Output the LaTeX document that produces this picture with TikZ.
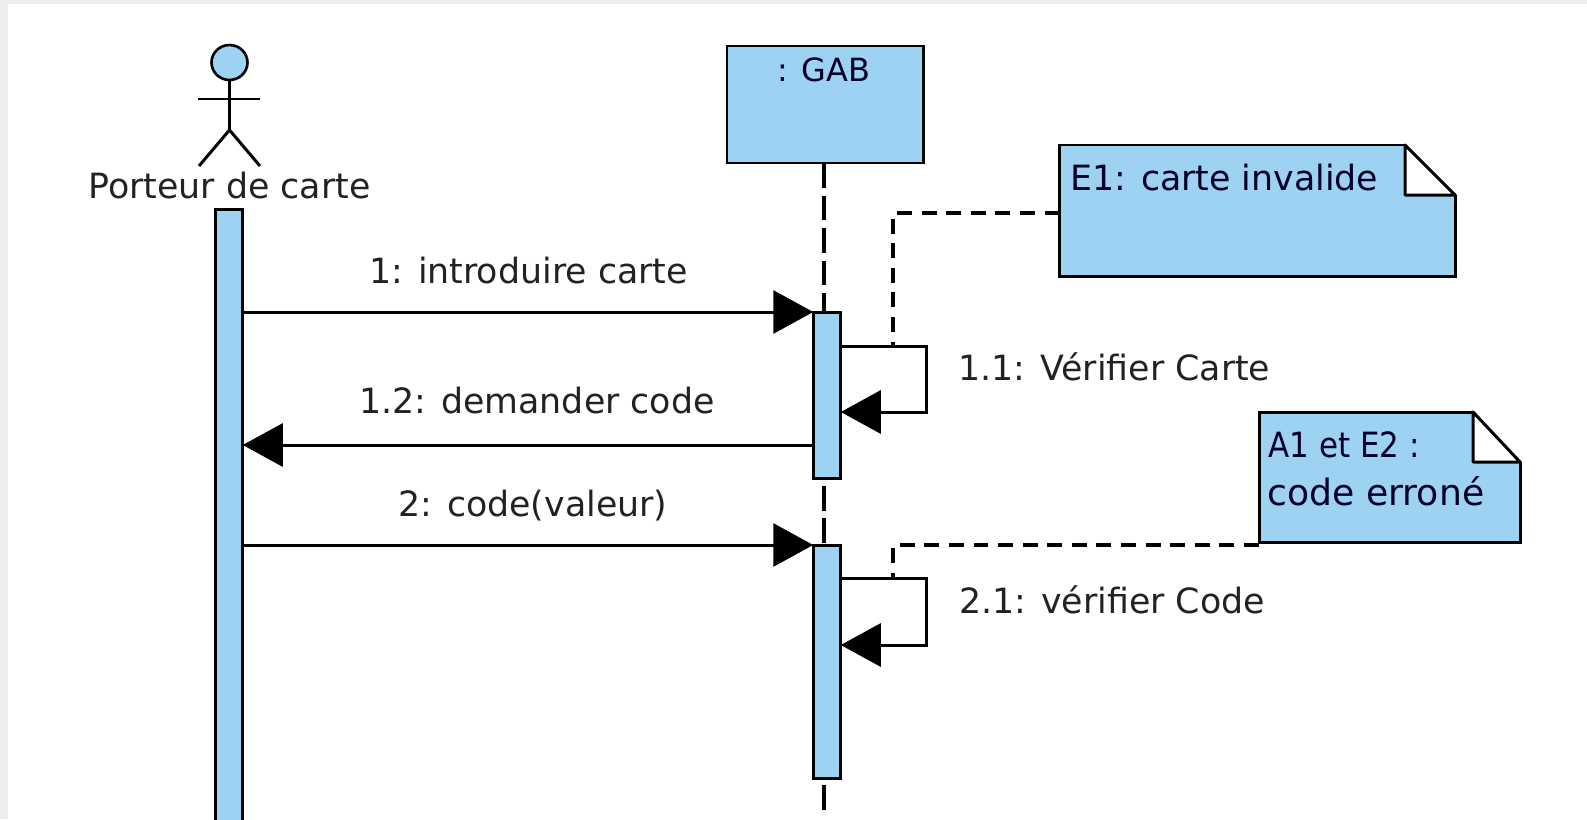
\documentclass[tikz,border=0pt]{standalone}
\usepackage{fontspec}
\setmainfont{DejaVu Sans}
\usetikzlibrary{arrows.meta,shapes.geometric}
\newcommand{\px}{0.02cm}
\definecolor{umlblue}{HTML}{9ED2F3}
\definecolor{umlframe}{HTML}{EEEEEE}
\definecolor{umltext}{HTML}{222222}
\begin{document}
\begin{tikzpicture}[x=\px, y=-\px, line width=1.7pt,
    barbox/.style={draw, fill=umlblue, minimum width=27.5*\px, inner sep=0pt, outer sep=0pt},
    notebox/.style={draw, fill=umlblue, inner sep=0pt, outer sep=0pt},
    msglabel/.style={anchor=base west, inner sep=0pt, text=umltext, font=\fontsize{19.8}{22}\selectfont},
    notelabel/.style={anchor=base west, inner sep=0pt, text=black!85!blue, font=\fontsize{19.8}{22}\selectfont},
    msgline/.style={-{Triangle[length=40*\px, width=43*\px]}},
    lifeline/.style={dash pattern=on 14pt off 4.5pt, line width=1.8pt},
    noteline/.style={dash pattern=on 8.5pt off 5.5pt, line width=1.9pt}]
  \useasboundingbox (0,0) rectangle (1587,819);
  \clip (0,0) rectangle (1587,819);
  % page
  \fill [umlframe] (0,0) rectangle (1587,819);
  \fill [white] (8,4) rectangle (1587,819);
  % actor
  \node [draw, fill=umlblue, ellipse, line width=1.5pt, minimum width=36*\px, minimum height=35*\px, inner sep=0pt, outer sep=0pt] (head) at (229.5,62.5) {};
  \coordinate (hip) at (229.5,130);
  \draw (head.south) -- (hip);
  \draw (198,99) -- (260,99);
  \draw (199,166) -- (hip) -- (260,166);
  \node [anchor=base, inner sep=0pt, text=umltext, font=\fontsize{19.8}{22}\selectfont] (porteur) at (229.5,198) {Porteur de carte};
  % object and lifeline
  \node [notebox, minimum width=196*\px, minimum height=117*\px] (gab) at (825,104.5) {};
  \node [anchor=base, inner sep=0pt, text=black!85!blue, font=\fontsize{18.2}{20}\selectfont] (gablabel) at (824,81) {: GAB};
  \node [barbox, minimum height=650*\px, anchor=north] (porteurbar) at (229,209) {};
  \node [barbox, minimum height=166*\px, anchor=north] (gabbara) at (827,312) {};
  \node [barbox, minimum height=233*\px, anchor=north] (gabbarb) at (827,545) {};
  \coordinate (lifeend) at (824,811);
  \draw [lifeline] (gab.south -| 824,0) -- (gabbara.north -| 824,0);
  \draw [lifeline, dash phase=14pt] (gabbara.south -| 824,0) -- (gabbarb.north -| 824,0);
  \draw [lifeline, dash phase=14.5pt] (gabbarb.south -| 824,0) -- (lifeend);
  % messages
  \coordinate (aout) at (porteurbar.east |- 0,312);
  \coordinate (bout) at (gabbara.west |- 0,445);
  \coordinate (bin) at (porteurbar.east |- 0,445);
  \coordinate (cout) at (porteurbar.east |- 0,545);
  \draw [msgline] (aout) -- (gabbara.north west);
  \draw [msgline] (bout) -- (bin);
  \draw [msgline] (cout) -- (gabbarb.north west);
  \node [msglabel] (msga) at (368,283) {1: introduire carte};
  \node [msglabel] (msgb) at (358,413) {1.2: demander code};
  \node [msglabel] (msgc) at (397,516) {2: code(valeur)};
  % self messages
  \coordinate (aaout) at (gabbara.east |- 0,346);
  \coordinate (aain) at (gabbara.east |- 0,412);
  \coordinate (bbout) at (gabbarb.east |- 0,578);
  \coordinate (bbin) at (gabbarb.east |- 0,645);
  \draw [msgline] (aaout) -- (926.5,346) -- (926.5,412) -- (aain);
  \draw [msgline] (bbout) -- (926,578) -- (926,645) -- (bbin);
  \node [msglabel] (msgaa) at (957,380) {1.1: Vérifier Carte};
  \node [msglabel] (msgbb) at (958,613) {2.1: vérifier Code};
  % notes
  \node [notebox, minimum width=395.5*\px, minimum height=131*\px] (notea) at (1257.25,210.5) {};
  \fill [white] (1405,143) -- (1457,143) -- (1457,195) -- cycle;
  \draw [fill=white, line join=round] (1405,145) -- (1405,195) -- (1455,195) -- cycle;
  \node [notelabel] (notealabel) at (1069,190) {E1: carte invalide};
  \node [notebox, minimum width=261*\px, minimum height=130*\px] (noteb) at (1389.5,477) {};
  \fill [white] (1473,410) -- (1522,410) -- (1522,462) -- cycle;
  \draw [fill=white, line join=round] (1473,412) -- (1473,462) -- (1520,462) -- cycle;
  \node [notelabel, xscale=.89] (noteblabela) at (1267,457) {A1 et E2 :};
  \node [notelabel, font=\fontsize{20.6}{22}\selectfont] (noteblabelb) at (1266,505) {code erroné};
  \draw [noteline] (notea.west |- 0,213) -- (893,213) -- (893,346);
  \draw [noteline] (noteb.south west) ++(0,3) -- (893,545) -- (893,578);
\end{tikzpicture}
\end{document}
